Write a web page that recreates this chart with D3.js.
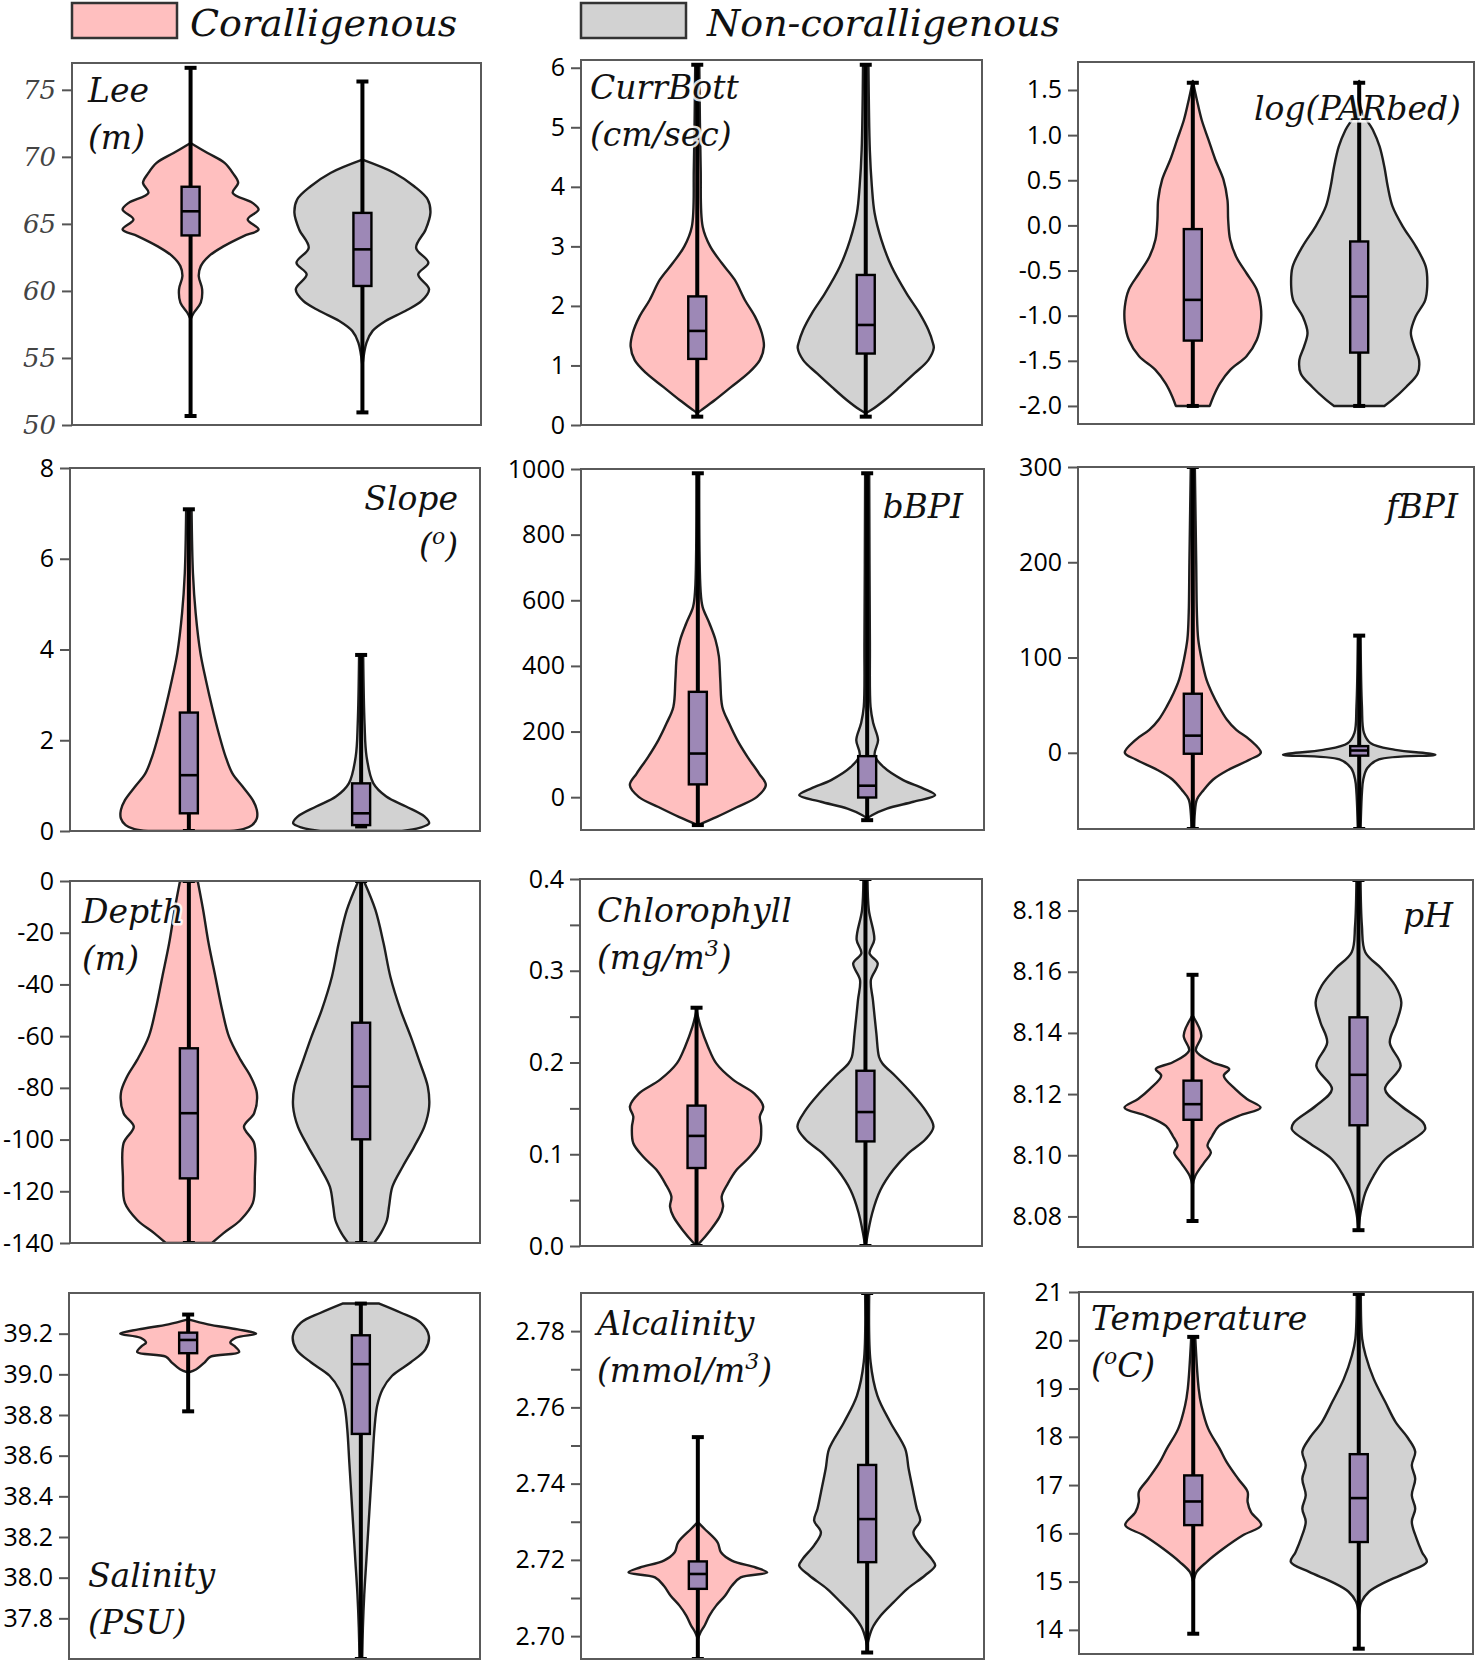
<!DOCTYPE html>
<html><head><meta charset="utf-8">
<script src="https://cdn.jsdelivr.net/npm/d3@7"></script>
<style>body{margin:0;background:#fff}svg{display:block}</style>
</head><body>
<svg id="chart" width="1476" height="1662"></svg>
<script>
// ---------------- DATA ----------------
const groups = ["Coralligenous", "Non-coralligenous"];
const variables = ["Lee","CurrBott","log(PARbed)","Slope","bBPI","fBPI","Depth","Chlorophyll","pH","Salinity","Alcalinity","Temperature"];
const labelLines = [["Lee","(m)"],["CurrBott","(cm/sec)"],["log(PARbed)"],["Slope","(^o)"],["bBPI"],["fBPI"],["Depth","(m)"],["Chlorophyll","(mg/m^3)"],["pH"],["Salinity","(PSU)"],["Alcalinity","(mmol/m^3)"],["Temperature","(^oC)"]];
const yDomains = [[50,77],[0,6.13],[-2.2,1.81],[0,8],[-100,1000],[-80,300],[-140,0],[0,0.4],[8.07,8.19],[37.6,39.4],[2.694,2.79],[13.5,21]];
const yTicks = [
  [50,55,60,65,70,75],[0,1,2,3,4,5,6],[-2,-1.5,-1,-0.5,0,0.5,1,1.5],[0,2,4,6,8],
  [0,200,400,600,800,1000],[0,100,200,300],[-140,-120,-100,-80,-60,-40,-20,0],[0,0.1,0.2,0.3,0.4],
  [8.08,8.10,8.12,8.14,8.16,8.18],[37.8,38.0,38.2,38.4,38.6,38.8,39.0,39.2],[2.70,2.72,2.74,2.76,2.78],[14,15,16,17,18,19,20,21]];
const yMinorTicks = [[],[],[],[],[],[],[],[0.05,0.15,0.25,0.35],[],[],[2.71,2.73,2.75,2.77],[]];
const tickFormats = ["d","d",".1f","d","d","d","d",".1f",".2f",".1f",".2f","d"];

// violin profiles: [value, relative half-width]
const densCoral = [
  [[71.03,0],[70.29,0.25],[69.55,0.5],[68.8,0.62],[68.06,0.7],[67.31,0.62],[66.57,0.91],[66.07,1],[65.33,0.84],[64.58,1],[64.09,0.78],[63.34,0.49],[62.6,0.27],[61.85,0.15],[61.11,0.12],[60.12,0.17],[59.13,0.15],[58.39,0.05],[57.89,0]],
  [[6.02,0.03],[4.34,0.05],[3.33,0.08],[3.0,0.19],[2.72,0.36],[2.44,0.55],[2.1,0.7],[1.82,0.85],[1.54,0.95],[1.32,0.98],[1.09,0.92],[0.87,0.75],[0.64,0.5],[0.42,0.26],[0.25,0.06],[0.2,0]],
  [[1.6,0],[1.39,0.06],[1.17,0.13],[0.95,0.23],[0.73,0.33],[0.51,0.45],[0.28,0.51],[0.06,0.52],[-0.16,0.55],[-0.35,0.64],[-0.53,0.79],[-0.71,0.94],[-0.9,1.0],[-1.08,1.0],[-1.27,0.94],[-1.45,0.79],[-1.6,0.55],[-1.75,0.4],[-1.9,0.3],[-2.0,0.25]],
  [[7.07,0.04],[5.68,0.06],[4.8,0.1],[3.92,0.17],[3.33,0.25],[2.74,0.34],[2.15,0.44],[1.64,0.54],[1.27,0.64],[0.98,0.79],[0.68,0.94],[0.46,1.0],[0.28,1.0],[0.13,0.93],[0.04,0.8],[0,0.6]],
  [[987,0.02],[631,0.04],[580,0.07],[530,0.17],[479,0.26],[428,0.31],[357,0.33],[275,0.36],[225,0.46],[174,0.58],[123,0.73],[72,0.9],[37,1.0],[1,0.87],[-30,0.58],[-60,0.28],[-85,0]],
  [[299,0.03],[200,0.05],[147,0.06],[119,0.08],[98,0.13],[77,0.2],[63,0.28],[49,0.38],[35,0.5],[24,0.64],[13.6,0.84],[0,1.0],[-7,0.84],[-18,0.52],[-28,0.3],[-39,0.16],[-49,0.06],[-63,0.03],[-80,0.02]],
  [[0,0.13],[-11.2,0.21],[-24.1,0.29],[-37,0.39],[-49.9,0.49],[-60.2,0.59],[-69.2,0.76],[-75.7,0.91],[-82.1,1.0],[-89.8,0.96],[-95,0.81],[-101.4,0.96],[-114.3,0.97],[-124.6,0.94],[-131.1,0.76],[-136.2,0.51],[-140,0.34]],
  [[0.257,0],[0.239,0.06],[0.217,0.17],[0.199,0.29],[0.181,0.54],[0.166,0.85],[0.152,0.98],[0.141,0.93],[0.13,0.95],[0.112,0.93],[0.097,0.78],[0.083,0.59],[0.068,0.46],[0.054,0.37],[0.043,0.39],[0.032,0.34],[0.017,0.2],[0.003,0.04],[0,0]],
  [[8.1457,0],[8.1391,0.13],[8.1342,0.05],[8.1304,0.29],[8.1282,0.54],[8.126,0.46],[8.1216,0.63],[8.1184,0.8],[8.1156,1.0],[8.1129,0.68],[8.1096,0.39],[8.1063,0.29],[8.1031,0.22],[8.1009,0.27],[8.0976,0.17],[8.0932,0.04],[8.09,0]],
  [[39.27,0],[39.246,0.29],[39.221,0.73],[39.2,1.0],[39.18,0.7],[39.156,0.62],[39.14,0.68],[39.11,0.75],[39.087,0.33],[39.058,0.24],[39.025,0.12],[39.009,0]],
  [[2.7299,0],[2.7281,0.1],[2.7246,0.29],[2.722,0.34],[2.7198,0.5],[2.718,0.85],[2.7167,1.02],[2.7154,0.63],[2.7132,0.5],[2.7106,0.4],[2.708,0.27],[2.7054,0.17],[2.7028,0.1],[2.701,0.04],[2.6992,0]],
  [[20.05,0.03],[19.0,0.08],[18.65,0.12],[18.17,0.22],[17.75,0.39],[17.48,0.49],[17.13,0.66],[16.86,0.8],[16.65,0.8],[16.44,0.85],[16.17,1.0],[15.96,0.73],[15.68,0.44],[15.41,0.2],[15.2,0.05],[14.99,0]]
];
const densNon = [
  [[69.79,0],[68.8,0.47],[67.81,0.76],[66.82,0.96],[65.82,1.0],[64.58,0.93],[63.22,0.79],[62.1,0.97],[61.23,0.82],[60.12,0.98],[59.25,0.87],[58.5,0.63],[57.76,0.34],[57.02,0.15],[56.15,0.06],[54.41,0]],
  [[6.05,0.04],[4.62,0.06],[4.01,0.09],[3.56,0.13],[3.11,0.23],[2.66,0.38],[2.21,0.6],[1.88,0.79],[1.6,0.92],[1.37,0.99],[1.29,1.0],[1.09,0.92],[0.87,0.72],[0.64,0.5],[0.42,0.28],[0.25,0.08],[0.2,0]],
  [[1.6,0],[1.28,0.03],[1.06,0.2],[0.875,0.3],[0.65,0.37],[0.43,0.42],[0.21,0.49],[-0.01,0.64],[-0.23,0.83],[-0.46,0.98],[-0.68,1.0],[-0.83,0.97],[-1.01,0.83],[-1.19,0.76],[-1.34,0.81],[-1.49,0.88],[-1.64,0.86],[-1.79,0.69],[-1.93,0.49],[-2.0,0.37]],
  [[3.88,0.03],[2.37,0.05],[1.64,0.08],[1.05,0.18],[0.76,0.37],[0.54,0.66],[0.32,0.93],[0.17,1.0],[0.07,0.86],[0,0.6]],
  [[987,0.03],[479,0.04],[275,0.05],[225,0.09],[174,0.16],[128,0.11],[92,0.24],[52,0.53],[27,0.82],[6,1.0],[-14,0.68],[-35,0.29],[-55,0.07],[-65,0]],
  [[122,0.02],[49,0.04],[21,0.07],[10,0.17],[3,0.53],[-2,1.12],[-7,0.29],[-16,0.12],[-28,0.06],[-42,0.04],[-80,0.02]],
  [[0,0.04],[-11.2,0.21],[-24.1,0.33],[-37,0.43],[-49.9,0.58],[-60.2,0.73],[-69.2,0.85],[-79.5,0.98],[-87.3,1.0],[-95,0.93],[-102.7,0.78],[-110.5,0.61],[-118.2,0.46],[-125.9,0.41],[-131.1,0.38],[-136.2,0.29],[-140,0.19]],
  [[0.4,0.03],[0.366,0.05],[0.334,0.13],[0.319,0.06],[0.308,0.18],[0.29,0.08],[0.268,0.11],[0.232,0.16],[0.206,0.2],[0.199,0.25],[0.1845,0.45],[0.1664,0.68],[0.148,0.88],[0.13,1.0],[0.116,0.88],[0.101,0.63],[0.083,0.41],[0.061,0.22],[0.036,0.1],[0.003,0.01]],
  [[8.1905,0.03],[8.1752,0.05],[8.1664,0.1],[8.161,0.34],[8.1555,0.54],[8.15,0.63],[8.1435,0.56],[8.1369,0.46],[8.1292,0.62],[8.1216,0.39],[8.1161,0.63],[8.1107,0.95],[8.1085,0.98],[8.1041,0.73],[8.0987,0.39],[8.0932,0.22],[8.0877,0.1],[8.0811,0.03],[8.0757,0]],
  [[39.348,0.27],[39.303,0.59],[39.254,0.88],[39.189,1.0],[39.123,0.95],[39.058,0.73],[38.993,0.46],[38.927,0.32],[38.846,0.24],[38.732,0.2],[38.569,0.17],[38.406,0.14],[38.242,0.11],[38.079,0.08],[37.916,0.05],[37.753,0.03],[37.606,0.02]],
  [[2.79,0.03],[2.7719,0.05],[2.7631,0.15],[2.7561,0.34],[2.7491,0.56],[2.7439,0.61],[2.7377,0.68],[2.7334,0.73],[2.7303,0.78],[2.7272,0.68],[2.7238,0.78],[2.7202,0.95],[2.7185,1.0],[2.7159,0.85],[2.7124,0.59],[2.7089,0.39],[2.7054,0.2],[2.7019,0.07],[2.6975,0]],
  [[20.96,0.03],[20.03,0.05],[19.69,0.1],[19.2,0.22],[18.72,0.39],[18.31,0.54],[17.96,0.73],[17.69,0.83],[17.41,0.78],[17.13,0.83],[16.79,0.78],[16.51,0.83],[16.24,0.78],[15.89,0.85],[15.61,0.93],[15.41,1.0],[15.2,0.73],[14.99,0.39],[14.79,0.15],[14.58,0.04],[14.3,0]]
];
// box stats: [whisker low, Q1, median, Q3, whisker high]
const boxCoral = [[50.67,64.14,65.94,67.77,76.64],[0.14,1.11,1.58,2.16,6.05],[-2.0,-1.276,-0.825,-0.041,1.58],[0,0.39,1.23,2.61,7.09],[-85,39,133,321,987],[-80,-1,18,62,300],[-140,-115,-89.8,-64.7,0],[0,0.085,0.12,0.153,0.2597],[8.0785,8.1116,8.1167,8.1244,8.159],[38.818,39.104,39.169,39.205,39.294],[2.694,2.7124,2.7163,2.7196,2.7522],[13.92,16.17,16.66,17.20,20.07]];
const boxNon = [[50.94,60.37,63.1,65.82,75.62],[0.14,1.2,1.68,2.52,6.05],[-2.0,-1.409,-0.788,-0.178,1.58],[0.1,0.13,0.39,1.05,3.88],[-70,-1,35,125,987],[-80,-3,2.4,7,123],[-140,-99.9,-79.5,-54.8,0],[0,0.114,0.146,0.191,0.4],[8.0755,8.1098,8.1263,8.1451,8.19],[37.6,38.707,39.05,39.192,39.348],[2.6957,2.7194,2.7307,2.7449,2.79],[13.61,15.82,16.73,17.64,20.96]];

// ---------------- LAYOUT / STYLE ----------------
const frames = [[72,63,481,425],[581,60,982,425],[1078,62,1474,424],[70,468,480,831],[581,469,984,830],[1078,467,1474,829],[70,881,480,1243],[580,879,982,1246],[1078,880,1473,1247],[69,1293,480,1659],[581,1293,984,1659],[1079,1292,1473,1654]];
const labelPos = [[88,102,"start"],[590,99,"start"],[1461,120,"end"],[458,510,"end"],[963,518,"end"],[1458,518,"end"],[82,923,"start"],[597,922,"start"],[1453,927,"end"],[88,1587,"start"],[597,1335,"start"],[1091,1330,"start"]];
const fills = ["#ffbfbf","#d2d2d2"];
const BOX_FILL = "#9d88b6";
const HALF = 68, BOXW = 18, LINE_H = 47;

const svg = d3.select("#chart");

// legend
const legX = [[72,190],[581,707]];
groups.forEach((gname,i)=>{
  svg.append("rect").attr("x",legX[i][0]).attr("y",3).attr("width",105).attr("height",35)
    .attr("fill",fills[i]).attr("stroke","#333").attr("stroke-width",2.5);
  svg.append("text").attr("x",legX[i][1]).attr("y",36).text(gname)
    .attr("font-family","DejaVu Serif").attr("font-style","italic").attr("font-size",38).attr("fill","#111");
});

variables.forEach((name, i)=>{
  const [x0,y0,x1,y1] = frames[i];
  const g = svg.append("g");
  const y = d3.scaleLinear().domain(yDomains[i]).range([y1,y0]);
  const x = d3.scalePoint().domain(groups).range([x0,x1]).padding(0.69);
  const clipId = "clip"+i;
  svg.append("clipPath").attr("id",clipId).append("rect").attr("x",x0).attr("y",y0).attr("width",x1-x0).attr("height",y1-y0);
  const plot = g.append("g").attr("clip-path",`url(#${clipId})`);

  [densCoral[i], densNon[i]].forEach((dens, k)=>{
    const cx = x(groups[k]);
    const area = d3.area().curve(d3.curveCatmullRom.alpha(0.5))
      .y(d=>y(d[0])).x0(d=>cx-d[1]*HALF).x1(d=>cx+d[1]*HALF);
    plot.append("path").datum(dens).attr("d",area).attr("fill",fills[k])
      .attr("stroke","#1e1e1e").attr("stroke-width",2.4).attr("stroke-linejoin","round");
  });
  [boxCoral[i], boxNon[i]].forEach((b,k)=>{
    const cx = x(groups[k]);
    const [lo,q1,med,q3,hi] = b;
    plot.append("line").attr("x1",cx).attr("x2",cx).attr("y1",y(lo)).attr("y2",y(hi))
      .attr("stroke","#000").attr("stroke-width",4);
    [lo,hi].forEach(v=>plot.append("line").attr("x1",cx-6).attr("x2",cx+6).attr("y1",y(v)).attr("y2",y(v))
      .attr("stroke","#000").attr("stroke-width",4));
    plot.append("rect").attr("x",cx-BOXW/2).attr("width",BOXW).attr("y",y(q3)).attr("height",y(q1)-y(q3))
      .attr("fill",BOX_FILL).attr("stroke","#000").attr("stroke-width",2.4);
    plot.append("line").attr("x1",cx-BOXW/2).attr("x2",cx+BOXW/2).attr("y1",y(med)).attr("y2",y(med))
      .attr("stroke","#000").attr("stroke-width",2.6);
  });

  // frame
  g.append("rect").attr("x",x0).attr("y",y0).attr("width",x1-x0).attr("height",y1-y0)
    .attr("fill","none").attr("stroke","#5a5a5a").attr("stroke-width",2);

  // axis
  const fmt = d3.format(tickFormats[i]);
  const ax = g.append("g").attr("transform",`translate(${x0},0)`)
    .call(d3.axisLeft(y).tickValues(yTicks[i]).tickSize(10).tickPadding(6).tickSizeOuter(0)
      .tickFormat(d=>fmt(d).replace("\u2212","-")));
  ax.select(".domain").remove();
  ax.selectAll(".tick line").attr("stroke","#555").attr("stroke-width",2);
  if (i===0) {
    ax.selectAll(".tick text").attr("font-family","DejaVu Serif").attr("font-style","italic").attr("font-size",26).attr("fill","#444");
  } else {
    ax.selectAll(".tick text").attr("font-family","Open Sans").attr("font-size",25).attr("fill","#000");
  }
  if (yMinorTicks[i].length) {
    const mx = g.append("g").attr("transform",`translate(${x0},0)`)
      .call(d3.axisLeft(y).tickValues(yMinorTicks[i]).tickSize(10).tickFormat(""));
    mx.select(".domain").remove();
    mx.selectAll(".tick line").attr("stroke","#555").attr("stroke-width",2);
  }

  // label
  const [lx,ly,anchor] = labelPos[i];
  labelLines[i].forEach((line,li)=>{
    const t = g.append("text").attr("x",lx).attr("y",ly+li*LINE_H).attr("text-anchor",anchor)
      .attr("font-family","DejaVu Serif").attr("font-style","italic").attr("font-size",33).attr("fill","#111")
      .attr("stroke","#fff").attr("stroke-width",5).attr("stroke-opacity",0.85)
      .attr("stroke-linejoin","round").attr("paint-order","stroke");
    const parts = line.split(/(\^\w)/).filter(s=>s.length);
    let shifted = false;
    parts.forEach(p=>{
      const ts = t.append("tspan");
      if (p[0]==="^") { ts.text(p.slice(1)).attr("font-size",22).attr("dy",-13); shifted = true; }
      else { ts.text(p); if (shifted) { ts.attr("dy",13); shifted=false; } }
    });
  });
});
</script>
</body></html>
